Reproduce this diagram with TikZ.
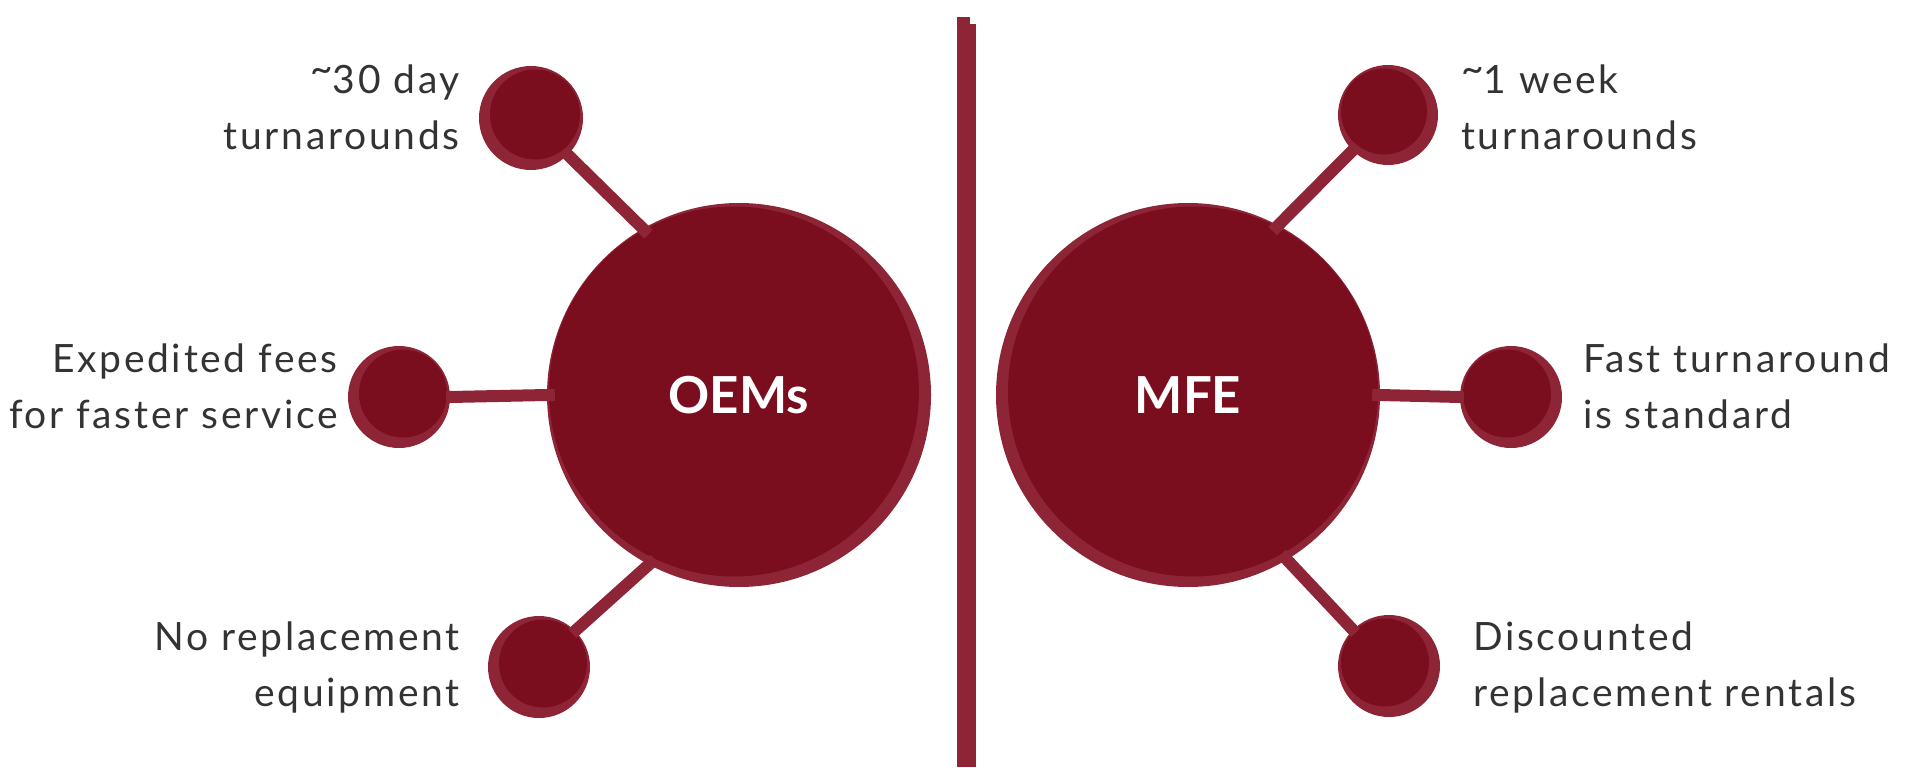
\documentclass[tikz,border=0pt]{standalone}
\usepackage{fontspec}
\setmainfont{Lato}
\newfontfamily\lblfont[LetterSpace=7]{Lato}
\usepackage{xcolor}
\usepackage{tikz}
\usetikzlibrary{calc}
\definecolor{ringred}{HTML}{8E2537}
\definecolor{corered}{HTML}{7A0D1E}
\definecolor{txtgray}{HTML}{333333}
\def\tld{\raisebox{0.28em}{\textasciitilde}}
\tikzset{
	ball/.style 2 args={circle,fill=ringred,inner sep=0pt,minimum size={2*#1pt},
		path picture={\fill[corered] ([xshift=#2pt,yshift=3.5pt]path picture bounding box.center) circle[radius={#1pt-7pt}];}},
	link/.style={draw=ringred,line width=12pt},
	lbl/.style={inner sep=0pt,text=txtgray,font=\lblfont\fontsize{39}{56}\selectfont},
	hub/.style={text=white,font=\fontsize{51}{60}\selectfont\bfseries},
}

\begin{document}
\begin{tikzpicture}[x=1pt,y=-1pt]
	\useasboundingbox (0,0) rectangle (1909,768);
	% divider
	\fill[ringred] (957,17) rectangle (970,767);
	\fill[ringred] (966,24) rectangle (976,767);
	% OEMs side
	\node[ball={192}{-5},hub] (oem) at (739,395) {OEMs};
	\node[ball={52}{4}] (oa) at (531,118) {};
	\node[ball={51}{4}] (ob) at (399,397) {};
	\node[ball={51}{4}] (oc) at (539,667) {};
	\draw[link,shorten <=-4pt,shorten >=-8pt] (oa.-45) -- (oem.120);
	\draw[link,shorten <=-4pt,shorten >=-8pt] (ob.east) -- (oem.west);
	\draw[link,shorten <=-4pt,shorten >=-8pt] (oc.45) -- (oem.242);
	\node[lbl,anchor=east,align=right] (la) at (460,107) {\tld30 day\\turnarounds};
	\node[lbl,anchor=east,align=right] (lb) at (338,386) {Expedited fees\\for faster service};
	\node[lbl,anchor=east,align=right] (lc) at (460,667) {No replacement\\equipment};
	% MFE side
	\node[ball={192}{5},hub] (mfe) at (1188,395) {MFE};
	\node[ball={50}{-4}] (md) at (1388,115) {};
	\node[ball={51}{-4}] (me) at (1511,397) {};
	\node[ball={51}{-4}] (mf) at (1389,666) {};
	\draw[link,shorten <=-4pt,shorten >=-8pt] (md.225) -- (mfe.62);
	\draw[link,shorten <=-4pt,shorten >=-8pt] (me.west) -- (mfe.east);
	\draw[link,shorten <=-4pt,shorten >=-8pt] (mf.135) -- (mfe.-59);
	\node[lbl,anchor=west,align=left] (ld) at (1461,107) {\tld1 week\\turnarounds};
	\node[lbl,anchor=west,align=left] (le) at (1583,386) {Fast turnaround\\is standard};
	\node[lbl,anchor=west,align=left] (lf) at (1473,667) {Discounted\\replacement rentals};
\end{tikzpicture}
\end{document}
